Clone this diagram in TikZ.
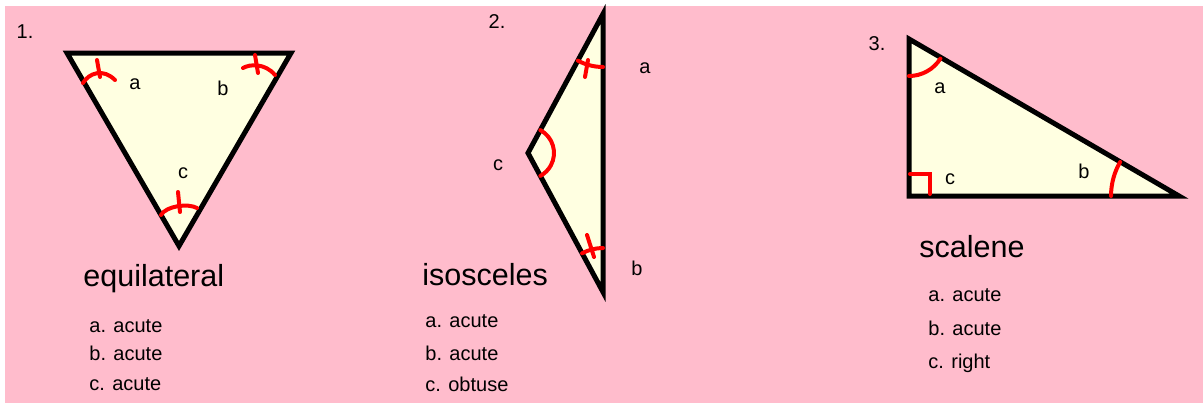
\documentclass[tikz,border=0pt]{standalone}
\usepackage{fontspec}
\setmainfont{Liberation Sans}
\usetikzlibrary{calc}

\definecolor{bgpink}{RGB}{255,188,204}
\definecolor{trifill}{RGB}{255,255,225}

\begin{document}
\begin{tikzpicture}[x=0.5pt,y=0.5pt,
    tri/.style={line width=2.5pt,draw=black,fill=trifill},
    redmark/.style={line width=2pt,red,line cap=round},
    lbl/.style={font=\fontsize{10}{12}\selectfont,inner sep=0pt,anchor=base},
    item/.style={font=\fontsize{10}{12}\selectfont,inner sep=0pt,anchor=base west},
    title/.style={font=\fontsize{15.25}{18}\selectfont,inner sep=0pt,anchor=base west}]

\useasboundingbox (0,0) rectangle (1203,403);
\fill[white] (0,0) rectangle (1203,403);
\fill[bgpink] (5,0) rectangle (1203,397);

% Triangle 1: equilateral
\coordinate (EqA) at (67,350);
\coordinate (EqB) at (291,350);
\coordinate (EqC) at (179,157);
\draw[tri] (EqA) -- (EqB) -- (EqC) -- cycle;

\draw[redmark] (83,320) .. controls (89,330) and (103,335) .. (115,323);
\draw[redmark] (97,343) -- (100,326);
\draw[redmark] (243,335) .. controls (250,339) and (265,340) .. (275,328);
\draw[redmark] (255,348) -- (258,330);
\draw[redmark] (161,188) .. controls (166,197) and (188,200) .. (197,195);
\draw[redmark] (178,211) -- (180,191);

\node[lbl] (numone) at (25,365) {1.};
\node[lbl] (eqa) at (135,314) {a};
\node[lbl] (eqb) at (223,308) {b};
\node[lbl] (eqc) at (183,225) {c};
\node[title] (eqname) at (83,117) {equilateral};
\node[item] (eqia) at (89,71) {a. acute};
\node[item] (eqib) at (89,43) {b. acute};
\node[item] (eqic) at (89,13) {c. acute};

% Triangle 2: isosceles
\coordinate (IsA) at (603,389);
\coordinate (IsC) at (528,250);
\coordinate (IsB) at (603,111);
\draw[tri] (IsA) -- (IsC) -- (IsB) -- cycle;

\draw[redmark] ([shift={(241.6:53)}]IsA) arc[start angle=241.6, end angle=270, radius=53];
\draw[redmark] (588,343) -- (585,326);
\draw[redmark] ([shift={(90:44)}]IsB) arc[start angle=90, end angle=118.4, radius=44];
\draw[redmark] (587,168) -- (594,146);
\draw[redmark] ([shift={(61.6:26)}]IsC) arc[start angle=61.6, end angle=-61.6, radius=26];

\node[lbl] (numtwo) at (497,375) {2.};
\node[lbl] (isa) at (645,330) {a};
\node[lbl] (isb) at (637,128) {b};
\node[lbl] (isc) at (498,233) {c};
\node[title] (isname) at (422,118) {isosceles};
\node[item] (isia) at (425,76) {a. acute};
\node[item] (isib) at (425,43) {b. acute};
\node[item] (isic) at (425,12) {c. obtuse};

% Triangle 3: scalene
\coordinate (ScA) at (909,364);
\coordinate (ScC) at (909,207);
\coordinate (ScB) at (1179,207);
\draw[tri] (ScA) -- (ScC) -- (ScB) -- cycle;

\draw[redmark] ([shift={(-90:37)}]ScA) arc[start angle=-90, end angle=-32, radius=37];
\draw[redmark] ([shift={(180:68)}]ScB) arc[start angle=180, end angle=150, radius=68];
\draw[redmark] (910,229) -- (930,229) -- (930,209);

\node[lbl] (numthree) at (877,353) {3.};
\node[lbl] (sca) at (940,310) {a};
\node[lbl] (scb) at (1084,225) {b};
\node[lbl] (scc) at (950,219) {c};
\node[title] (scname) at (919,146) {scalene};
\node[item] (scia) at (928,102) {a. acute};
\node[item] (scib) at (928,68) {b. acute};
\node[item] (scic) at (928,35) {c. right};
\end{tikzpicture}
\end{document}
